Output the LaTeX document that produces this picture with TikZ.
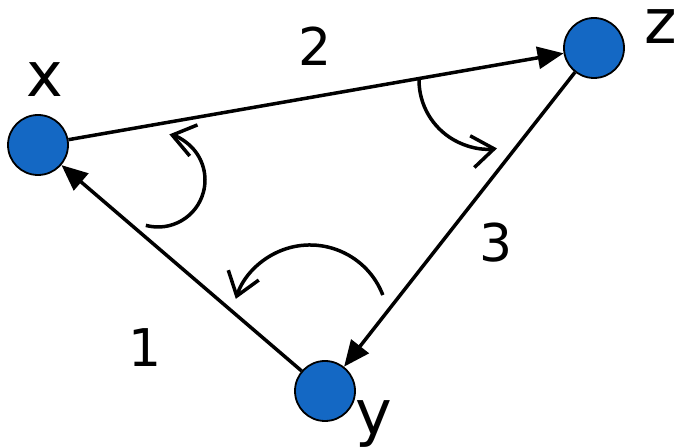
\documentclass[tikz,border=0pt]{standalone}
\usepackage{fontspec}
\setmainfont{DejaVu Sans}
\usetikzlibrary{arrows.meta}
\definecolor{nodeblue}{RGB}{20,104,196}
\begin{document}
\begin{tikzpicture}[x=1pt,y=1pt,
  vertex/.style={circle,draw=black,line width=1.8pt,fill=nodeblue,minimum size=60pt,inner sep=0pt},
  edge/.style={line width=3.5pt,-{Triangle[length=26pt,width=22pt]}},
  turn/.style={line width=3.5pt,-{Straight Barb[length=22pt,width=32pt]}},
  lbl/.style={inner sep=0pt,font=\fontsize{62}{62}\selectfont},
  num/.style={inner sep=0pt,font=\fontsize{52}{52}\selectfont}]
\useasboundingbox[fill=white] (0,0) rectangle (678,447);
\node[vertex] (x) at (38,302) {};
\node[vertex] (z) at (594,399) {};
\node[vertex] (y) at (325,56) {};
\draw[edge] (x) -- (z);
\draw[edge] (z) -- (y);
\draw[edge] (y) -- (x);
\node[lbl] (lx) at (45,367) {x};
\node[lbl] (lz) at (661,420) {z};
\node[lbl,anchor=north] (ly) at (374,47) {y};
\node[num] (n2) at (315,401) {2};
\node[num] (n3) at (496,204) {3};
\node[num] (n1) at (145,99) {1};
\draw[turn] ([shift={(-105:47)}]158,267) arc[start angle=-105,end angle=76,radius=47];
\draw[turn] ([shift={(180:69)}]488,367) arc[start angle=180,end angle=277.5,radius=69];
\draw[turn] ([shift={(21:78)}]310,124) arc[start angle=21,end angle=162,radius=78];
\end{tikzpicture}
\end{document}
